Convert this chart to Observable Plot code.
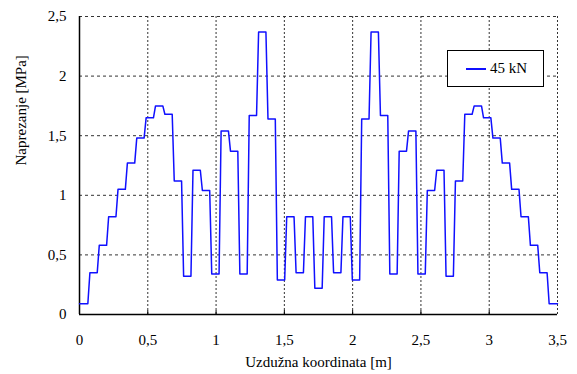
<!DOCTYPE html>
<html>
<head>
<meta charset="utf-8">
<script src="https://cdn.jsdelivr.net/npm/d3@7"></script>
<script src="https://cdn.jsdelivr.net/npm/@observablehq/plot@0.6"></script>
<style>
  html, body { margin: 0; padding: 0; background: #fff; }
  #wrap { position: relative; width: 577px; height: 374px; }
  #legend {
    position: absolute; left: 447px; top: 50px; width: 97px; height: 37px;
    background: #fff; border: 1px solid #000; box-sizing: border-box;
    font-family: "Liberation Serif", "Times New Roman", Tinos, "DejaVu Serif", serif; font-size: 15px;
    display: flex; align-items: center;
  }
  #legend .swatch { display: inline-block; width: 20px; height: 0; border-top: 2px solid #1010ff; margin-left: 18px; margin-right: 4px; }
  #chart svg, #chart svg text { font-family: "Liberation Serif", "Times New Roman", Tinos, "DejaVu Serif", serif !important; }
</style>
</head>
<body>
<div id="wrap">
  <div id="chart"></div>
  <div id="legend"><span class="swatch"></span><span>45 kN</span></div>
</div>
<script>
// Stress per beam element (51 equal elements along 3.5 m)
const seriesName = "45 kN";
const beamLength = 3.5;
const stress = [
  0.09, 0.35, 0.58, 0.82, 1.05, 1.27, 1.48, 1.65, 1.75, 1.68,
  1.12, 0.32, 1.21, 1.04, 0.34, 1.54, 1.37, 0.34, 1.67, 2.37,
  1.64, 0.29, 0.82, 0.35, 0.82, 0.22, 0.82, 0.35, 0.82, 0.29,
  1.64, 2.37, 1.67, 0.34, 1.37, 1.54, 0.34, 1.04, 1.21, 0.32,
  1.12, 1.68, 1.75, 1.65, 1.48, 1.27, 1.05, 0.82, 0.58, 0.35,
  0.09
];
const xTicks = [0, 0.5, 1, 1.5, 2, 2.5, 3, 3.5];
const yTicks = [0, 0.5, 1, 1.5, 2, 2.5];
const xLabel = "Uzdužna koordinata [m]";
const yLabel = "Naprezanje [MPa]";

// Nodal points: each element keeps a constant value, with a short slanted transition between elements
const n = stress.length;
const L = beamLength / n;
const g = 0.0075;
const points = [];
stress.forEach((v, i) => {
  points.push({x: i === 0 ? 0 : i * L + g, y: v});
  points.push({x: i === n - 1 ? beamLength : (i + 1) * L - g, y: v});
});

const fmt = d => String(d).replace(".", ",");
const font = "Liberation Serif, Times New Roman, Tinos, DejaVu Serif, serif";

const chart = Plot.plot({
  width: 577,
  height: 374,
  marginLeft: 79,
  marginRight: 20,
  marginTop: 16,
  marginBottom: 60,
  style: {fontFamily: font, fontSize: "15px", background: "#fff", color: "#000", overflow: "visible"},
  x: {domain: [0, beamLength]},
  y: {domain: [0, 2.5]},
  marks: [
    Plot.ruleY(yTicks.filter(d => d > 0), {stroke: "#333", strokeWidth: 1, strokeDasharray: "3,3"}),
    Plot.ruleX(xTicks.filter(d => d > 0), {stroke: "#333", strokeWidth: 1, strokeDasharray: "2,2"}),
    Plot.ruleX(xTicks.filter(d => d > 0 && d < beamLength), {stroke: "#000", strokeWidth: 1, insetTop: 294}),
    Plot.ruleX([0], {stroke: "#000", strokeWidth: 1.5}),
    Plot.ruleY([0], {stroke: "#000", strokeWidth: 1.5}),
    Plot.line(points, {x: "x", y: "y", stroke: "#1010ff", strokeWidth: 1.5}),
    Plot.axisX({ticks: xTicks, tickFormat: fmt, tickSize: 0, tickPadding: 20, label: null, fontSize: 15, fontFamily: font}),
    Plot.axisY({ticks: yTicks, tickFormat: fmt, tickSize: 0, tickPadding: 13, label: null, fontSize: 15, fontFamily: font}),
    Plot.text([xLabel], {frameAnchor: "bottom", dy: 48, lineAnchor: "middle", fontSize: 15, fontFamily: font, fill: "#000"}),
    Plot.text([yLabel], {frameAnchor: "left", dx: -58, rotate: -90, lineAnchor: "middle", fontSize: 15, fontFamily: font, fill: "#000"})
  ]
});
document.getElementById("chart").appendChild(chart);
</script>
</body>
</html>
